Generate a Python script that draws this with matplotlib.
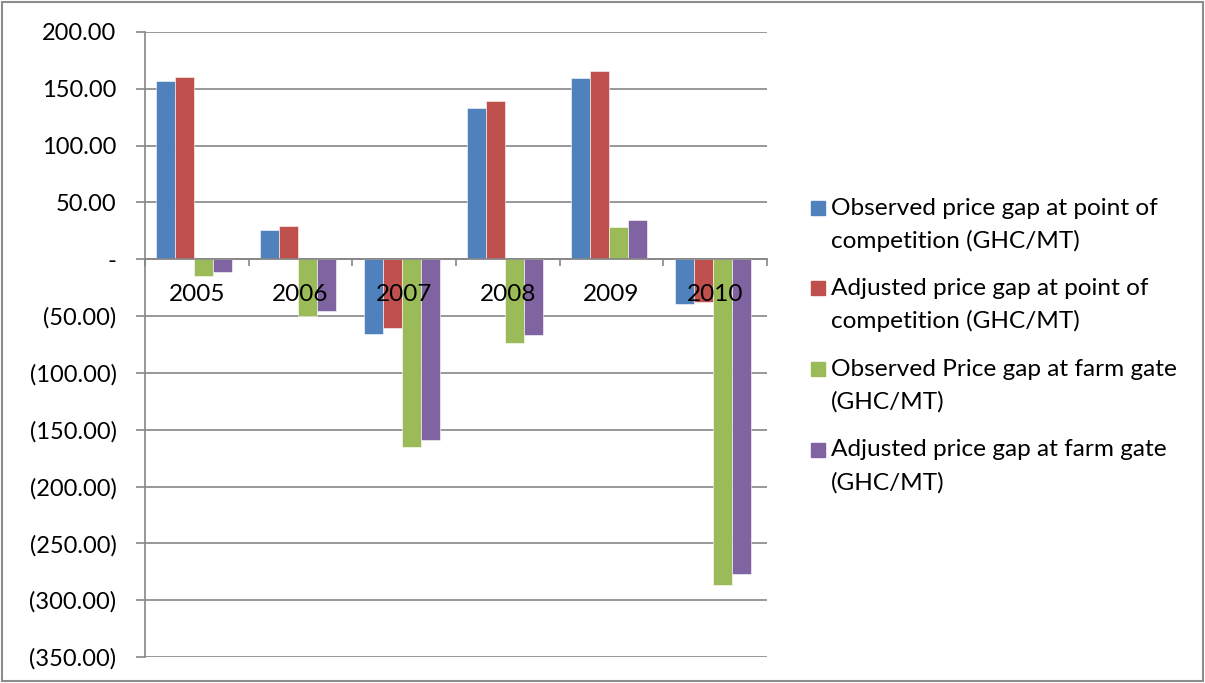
import matplotlib.pyplot as plt
from matplotlib.patches import Rectangle
import numpy as np

plt.rcParams['font.family'] = ['Lato', 'DejaVu Sans']

# price gaps per year (GHC/MT)
years = ['2005', '2006', '2007', '2008', '2009', '2010']
obs_comp = [156.7, 25.5, -66.0, 132.7, 159.3, -39.0]
adj_comp = [160.2, 29.3, -60.1, 139.7, 166.1, -38.0]
obs_farm = [-14.7, -49.5, -165.2, -73.7, 28.2, -286.4]
adj_farm = [-11.2, -45.8, -159.3, -66.6, 34.6, -276.7]

labels = ['Observed price gap at point of\ncompetition (GHC/MT)',
          'Adjusted price gap at point of\ncompetition (GHC/MT)',
          'Observed Price gap at farm gate\n(GHC/MT)',
          'Adjusted price gap at farm gate\n(GHC/MT)']
colors = ['#4F81BD', '#C0504D', '#9BBB59', '#8064A2']
series = [obs_comp, adj_comp, obs_farm, adj_farm]

W, H = 1205, 683
fig = plt.figure(figsize=(W / 100, H / 100), dpi=100)
ax = fig.add_axes([145 / W, 1 - 657 / H, (767 - 145) / W, (657 - 32) / H])

grey = '#868686'
x = np.arange(len(years)) + 0.5
bw = 0.183
for k, (vals, c) in enumerate(zip(series, colors)):
    ax.bar(x + (k - 1.5) * bw - 0.025, vals, width=bw, color=c,
           edgecolor='white', linewidth=0.4, zorder=1)

yticks = np.arange(-350, 201, 50)
for v in yticks:
    ax.axhline(v, color=grey, lw=1.2, zorder=0.5)

def fmt(v):
    if v == 0:
        return '-'
    if v < 0:
        return '({:.2f})'.format(abs(v))
    return '{:.2f}'.format(v)

ax.set_xlim(0, len(years))
ax.set_ylim(-350, 200)
ax.set_yticks(yticks)
ax.set_yticklabels([fmt(v) for v in yticks], fontsize=17)

ax.spines['top'].set_visible(False)
ax.spines['right'].set_visible(False)
ax.spines['bottom'].set_position(('data', 0))
for s in ['left', 'bottom']:
    ax.spines[s].set_color(grey)
    ax.spines[s].set_linewidth(1.2)

# category labels sit just under the zero line, boundaries get small ticks
ax.set_xticks(x)
ax.set_xticklabels(years, fontsize=17.5)
ax.set_xticks(np.arange(len(years) + 1), minor=True)
ax.tick_params(axis='x', which='major', length=0, pad=18)
ax.tick_params(axis='x', which='minor', length=5, color=grey, width=1.2)
ax.tick_params(axis='y', length=6.5, color=grey, width=1.2, pad=14)
ax.set_axisbelow(False)

# legend drawn by hand so the swatch lines up with the first text line
baselines = [215, 295, 376, 456.5]
for lab, c, yb in zip(labels, colors, baselines):
    fig.patches.append(Rectangle((811 / W, 1 - yb / H), 14 / W, 14 / H,
                                 transform=fig.transFigure, color=c))
    first, second = lab.split('\n')
    fig.text(831 / W, 1 - yb / H, first, fontsize=17.6, va='baseline')
    fig.text(831 / W, 1 - (yb + 33) / H, second, fontsize=17.6, va='baseline')

# outer frame
fig.patches.append(Rectangle((2 / W, 2 / H), (W - 4) / W, (H - 4) / H,
                             transform=fig.transFigure, fill=False,
                             edgecolor='#8c8c8c', lw=1.5))

fig.savefig('out.png', dpi=100)
